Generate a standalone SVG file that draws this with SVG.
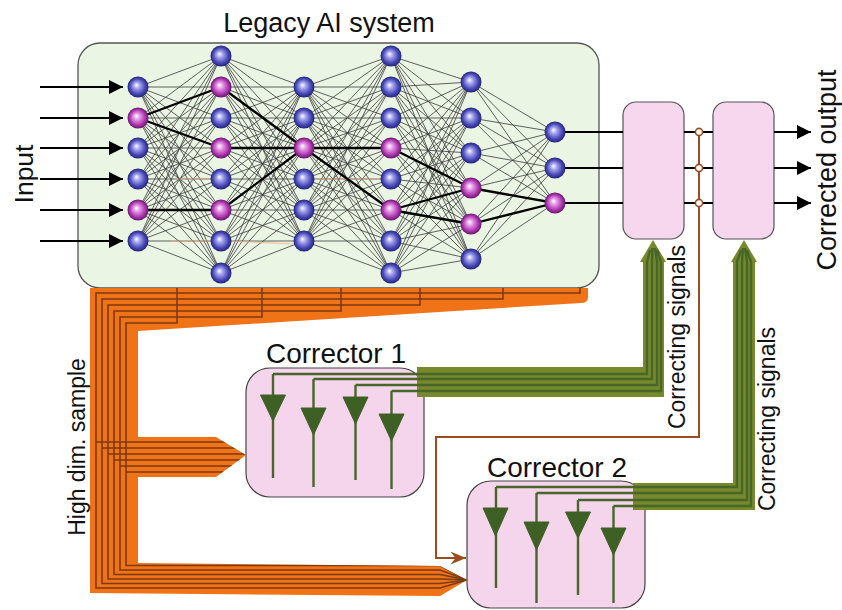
<svg xmlns="http://www.w3.org/2000/svg" xmlns:xlink="http://www.w3.org/1999/xlink" width="842" height="610" viewBox="0 0 842 610">
<style>
.t{font-family:"Liberation Sans",Arial,Helvetica,sans-serif;fill:#111}
.w{fill:none;stroke:#3a3a3a;stroke-width:0.8}
.hw{fill:none;stroke:#000;stroke-width:2.3}
.pk{fill:none;stroke:#f2b08a;stroke-width:1.1;opacity:0.75}
.box{fill:#f6d7ee;stroke:#555;stroke-width:1.2}
.gl{fill:none;stroke:#46662a;stroke-width:2.4}
.tri{fill:#3f6024;stroke:#3f6024;stroke-width:1;stroke-linejoin:round}
.bl{fill:none;stroke:#7b3a12;stroke-width:1.6}
.ar{fill:none;stroke:#000;stroke-width:2.2}
</style>
<defs>
<radialGradient id="gB" cx="50%" cy="50%" r="50%" fx="42%" fy="40%">
<stop offset="0" stop-color="#ffffff"/><stop offset="0.3" stop-color="#a4a4ee"/><stop offset="0.72" stop-color="#4a4ab8"/><stop offset="1" stop-color="#23237a"/>
</radialGradient>
<radialGradient id="gP" cx="50%" cy="50%" r="50%" fx="42%" fy="40%">
<stop offset="0" stop-color="#ffffff"/><stop offset="0.3" stop-color="#e49ae6"/><stop offset="0.72" stop-color="#b038b0"/><stop offset="1" stop-color="#64166e"/>
</radialGradient>
<circle id="nb" r="10.5" fill="url(#gB)"/>
<circle id="np" r="10.5" fill="url(#gP)"/>
<marker id="ah" viewBox="0 0 10 10" refX="10" refY="5" markerWidth="17" markerHeight="14" markerUnits="userSpaceOnUse" orient="auto"><path d="M0,0L10,5L0,10z" fill="#000"/></marker>
<marker id="bh" viewBox="0 0 12 10" refX="12" refY="5" markerWidth="17" markerHeight="13" markerUnits="userSpaceOnUse" orient="auto"><path d="M0,0L12,5L0,10L4,5z" fill="#9c4a1e"/></marker>
<clipPath id="oc"><path d="M90,288H588V297Q588,303 581,303L138,331V437H216L246,455L216,477H138V563L440,566L467,580L440,596L90,593Z"/></clipPath>
</defs>

<g id="ai-system">
<rect x="78" y="43" width="521" height="245" rx="22" fill="#eaf5e4" stroke="#555" stroke-width="1.3"/>
<text class="t" x="329" y="32" font-size="27" text-anchor="middle">Legacy AI system</text>
<path class="w" d="M138 87L221 56M138 87L221 87M138 87L221 118M138 87L221 148M138 87L221 179M138 87L221 210M138 87L221 241M138 87L221 273M138 118L221 56M138 118L221 87M138 118L221 118M138 118L221 148M138 118L221 179M138 118L221 210M138 118L221 241M138 118L221 273M138 148L221 56M138 148L221 87M138 148L221 118M138 148L221 148M138 148L221 179M138 148L221 210M138 148L221 241M138 148L221 273M138 179L221 56M138 179L221 87M138 179L221 118M138 179L221 148M138 179L221 179M138 179L221 210M138 179L221 241M138 179L221 273M138 210L221 56M138 210L221 87M138 210L221 118M138 210L221 148M138 210L221 179M138 210L221 210M138 210L221 241M138 210L221 273M138 241L221 56M138 241L221 87M138 241L221 118M138 241L221 148M138 241L221 179M138 241L221 210M138 241L221 241M138 241L221 273"/>
<path class="w" d="M304 87L221 56M304 87L221 87M304 87L221 118M304 87L221 148M304 87L221 179M304 87L221 210M304 87L221 241M304 87L221 273M304 118L221 56M304 118L221 87M304 118L221 118M304 118L221 148M304 118L221 179M304 118L221 210M304 118L221 241M304 118L221 273M304 148L221 56M304 148L221 87M304 148L221 118M304 148L221 148M304 148L221 179M304 148L221 210M304 148L221 241M304 148L221 273M304 179L221 56M304 179L221 87M304 179L221 118M304 179L221 148M304 179L221 179M304 179L221 210M304 179L221 241M304 179L221 273M304 210L221 56M304 210L221 87M304 210L221 118M304 210L221 148M304 210L221 179M304 210L221 210M304 210L221 241M304 210L221 273M304 241L221 56M304 241L221 87M304 241L221 118M304 241L221 148M304 241L221 179M304 241L221 210M304 241L221 241M304 241L221 273"/>
<path class="w" d="M304 87L391 56M304 87L391 87M304 87L391 118M304 87L391 148M304 87L391 179M304 87L391 210M304 87L391 241M304 87L391 273M304 118L391 56M304 118L391 87M304 118L391 118M304 118L391 148M304 118L391 179M304 118L391 210M304 118L391 241M304 118L391 273M304 148L391 56M304 148L391 87M304 148L391 118M304 148L391 148M304 148L391 179M304 148L391 210M304 148L391 241M304 148L391 273M304 179L391 56M304 179L391 87M304 179L391 118M304 179L391 148M304 179L391 179M304 179L391 210M304 179L391 241M304 179L391 273M304 210L391 56M304 210L391 87M304 210L391 118M304 210L391 148M304 210L391 179M304 210L391 210M304 210L391 241M304 210L391 273M304 241L391 56M304 241L391 87M304 241L391 118M304 241L391 148M304 241L391 179M304 241L391 210M304 241L391 241M304 241L391 273"/>
<path class="w" d="M471 82L391 56M471 82L391 87M471 82L391 118M471 82L391 148M471 82L391 179M471 82L391 210M471 82L391 241M471 82L391 273M471 118L391 56M471 118L391 87M471 118L391 118M471 118L391 148M471 118L391 179M471 118L391 210M471 118L391 241M471 118L391 273M471 153L391 56M471 153L391 87M471 153L391 118M471 153L391 148M471 153L391 179M471 153L391 210M471 153L391 241M471 153L391 273M471 188L391 56M471 188L391 87M471 188L391 118M471 188L391 148M471 188L391 179M471 188L391 210M471 188L391 241M471 188L391 273M471 224L391 56M471 224L391 87M471 224L391 118M471 224L391 148M471 224L391 179M471 224L391 210M471 224L391 241M471 224L391 273M471 259L391 56M471 259L391 87M471 259L391 118M471 259L391 148M471 259L391 179M471 259L391 210M471 259L391 241M471 259L391 273"/>
<path class="w" d="M555 132L471 82M555 132L471 118M555 132L471 153M555 132L471 188M555 132L471 224M555 132L471 259M555 168L471 82M555 168L471 118M555 168L471 153M555 168L471 188M555 168L471 224M555 168L471 259M555 203L471 82M555 203L471 118M555 203L471 153M555 203L471 188M555 203L471 224M555 203L471 259"/>
<path class="pk" d="M175 179L211 179M170 241L211 241M231 241L294 244M314 179L381 179"/>
<path class="hw" d="M138 118L221 87M138 118L221 148M138 210L221 210M221 87L304 148M221 148L304 148M221 210L304 148M304 148L391 148M304 148L391 210M391 148L471 188M391 210L471 188M391 210L471 224M471 188L555 203M471 224L555 203"/>
<use href="#nb" x="138" y="87"/><use href="#np" x="138" y="118"/><use href="#nb" x="138" y="148"/><use href="#nb" x="138" y="179"/><use href="#np" x="138" y="210"/><use href="#nb" x="138" y="241"/>
<use href="#nb" x="221" y="56"/><use href="#np" x="221" y="87"/><use href="#nb" x="221" y="118"/><use href="#np" x="221" y="148"/><use href="#nb" x="221" y="179"/><use href="#np" x="221" y="210"/><use href="#nb" x="221" y="241"/><use href="#nb" x="221" y="273"/>
<use href="#nb" x="304" y="87"/><use href="#nb" x="304" y="118"/><use href="#np" x="304" y="148"/><use href="#nb" x="304" y="179"/><use href="#nb" x="304" y="210"/><use href="#nb" x="304" y="241"/>
<use href="#nb" x="391" y="56"/><use href="#nb" x="391" y="87"/><use href="#nb" x="391" y="118"/><use href="#np" x="391" y="148"/><use href="#nb" x="391" y="179"/><use href="#np" x="391" y="210"/><use href="#nb" x="391" y="241"/><use href="#nb" x="391" y="273"/>
<use href="#nb" x="471" y="82"/><use href="#nb" x="471" y="118"/><use href="#nb" x="471" y="153"/><use href="#np" x="471" y="188"/><use href="#np" x="471" y="224"/><use href="#nb" x="471" y="259"/>
<use href="#nb" x="555" y="132"/><use href="#nb" x="555" y="168"/><use href="#np" x="555" y="203"/>
</g>

<g id="corrector-box-1"><rect class="box" x="623" y="102" width="61" height="137" rx="13"/></g>
<g id="corrector-box-2"><rect class="box" x="713" y="102" width="61" height="137" rx="13"/></g>

<g id="corrector-1">
<rect x="246" y="368" width="178" height="129" rx="24" fill="#f5d5ec" stroke="#444" stroke-width="1.2"/>
<text class="t" x="336" y="363" font-size="28" text-anchor="middle">Corrector 1</text>
<path class="gl" d="M273 374V478M313.5 379V487M355.5 385V480M391.5 391V489"/>
<path class="tri" d="M260.5 395H285.5L273 421ZM301 408H326L313.5 435ZM343 397H368L355.5 424ZM379 414H404L391.5 441Z"/>
</g>

<g id="corrector-2">
<rect x="467" y="481" width="178" height="127" rx="24" fill="#f5d5ec" stroke="#444" stroke-width="1.2"/>
<text class="t" x="557" y="477" font-size="28" text-anchor="middle">Corrector 2</text>
<path class="gl" d="M496 487V588M536.5 493V603M578 500V595M613.5 506V603"/>
<path class="tri" d="M483 508H508L495.5 536ZM524 522H549L536.5 550ZM565.5 512H590.5L578 538ZM601 528H626L613.5 555Z"/>
</g>

<g id="connectors">
<path d="M90,288H588V297Q588,303 581,303L138,331V437H216L246,455L216,477H138V563L440,566L467,580L440,596L90,593Z" fill="#f07318"/>
<g clip-path="url(#oc)" class="bl">
<path d="M580 288V293H96V588H440L467 580"/>
<path d="M503 288V299H102V583.5H440L467 580"/>
<path d="M420 288V305H108V579H440L467 580"/>
<path d="M341 288V311H114V574.5H440L467 580"/>
<path d="M262 288V317H120V570H440L467 580"/>
<path d="M177 288V323H126V565.5H440L467 580"/>
<path d="M96 442H250M102 448H250M108 454H250M114 460H250M120 466H250M126 472H250"/>
</g>
<path d="M417,367H643V262H640L653,240L666,262H664V397H417Z" fill="#77892b"/>
<path class="gl" d="M273 374H647V262L650 250M313.5 379H652V262L652.5 248M355.5 385H657V262L655 248M391.5 391H661V262L657 250"/>
<path d="M633,483H733V262H731L744,240L757,262H755V510H633Z" fill="#77892b"/>
<path class="gl" d="M496 487H737V262L741 250M536.5 493H742V262L743 248M578 500H747V262L745 248M613.5 506H751V262L747 250"/>
<path d="M699 132V437H436V558H466" fill="none" stroke="#9c4a1e" stroke-width="2" marker-end="url(#bh)"/>
<path class="ar" d="M40 87H123" marker-end="url(#ah)"/>
<path class="ar" d="M40 118H123" marker-end="url(#ah)"/>
<path class="ar" d="M40 148H123" marker-end="url(#ah)"/>
<path class="ar" d="M40 179H123" marker-end="url(#ah)"/>
<path class="ar" d="M40 210H123" marker-end="url(#ah)"/>
<path class="ar" d="M40 241H123" marker-end="url(#ah)"/>
<path class="ar" d="M565 132H623M565 168H623M565 203H623M684 132H713M684 168H713M684 203H713"/>
<path class="ar" d="M774 132H811" marker-end="url(#ah)"/>
<path class="ar" d="M774 168H811" marker-end="url(#ah)"/>
<path class="ar" d="M774 203H811" marker-end="url(#ah)"/>
<circle cx="699" cy="132" r="3.6" fill="#fff" stroke="#9c4a1e" stroke-width="1.6"/>
<circle cx="699" cy="168" r="3.6" fill="#fff" stroke="#9c4a1e" stroke-width="1.6"/>
<circle cx="699" cy="203" r="3.6" fill="#fff" stroke="#9c4a1e" stroke-width="1.6"/>
</g>

<g id="labels">
<text class="t" font-size="26.5" text-anchor="middle" transform="translate(33,174) rotate(-90)">Input</text>
<text class="t" font-size="27" text-anchor="middle" transform="translate(836,170) rotate(-90)">Corrected output</text>
<text class="t" font-size="23" text-anchor="middle" transform="translate(85,447) rotate(-90)">High dim. sample</text>
<text class="t" font-size="23" text-anchor="middle" transform="translate(685,337) rotate(-90)">Correcting signals</text>
<text class="t" font-size="23" text-anchor="middle" transform="translate(775,419) rotate(-90)">Correcting signals</text>
</g>
</svg>
